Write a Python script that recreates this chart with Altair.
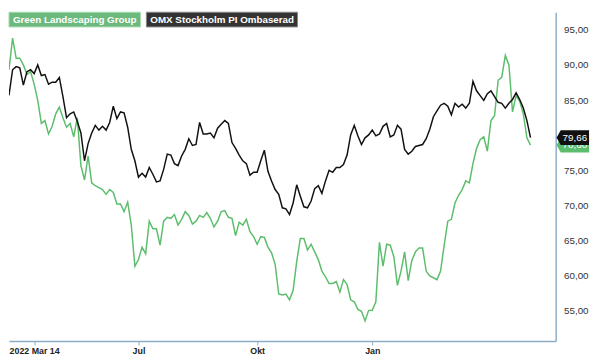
import altair as alt
import pandas as pd

# ---------------- data ----------------
session = list(range(0, 291, 2))   # trading-session index (every 2nd session)

green_vals = [
    89.33, 93.84, 90.97, 90.97, 90.02, 88.65, 89.06, 87.28, 84.96, 81.68,
    82.09, 80.18, 81.27, 83.05, 84.01, 82.50, 81.14, 81.68, 79.77, 82.50,
    75.67, 73.62, 77.04, 73.21, 72.80, 72.53, 72.26, 71.57, 72.26, 71.85,
    70.21, 70.21, 69.11, 70.48, 67.20, 61.33, 62.28, 64.06, 63.10, 67.75,
    66.66, 66.66, 64.33, 67.75, 68.30, 68.16, 68.70, 67.20, 68.02, 69.11,
    68.57, 67.34, 67.75, 68.57, 68.30, 68.98, 68.16, 66.93, 67.75, 69.11,
    69.25, 68.30, 68.16, 65.70, 67.61, 67.20, 68.02, 66.25, 65.56, 64.47,
    65.56, 65.43, 64.06, 63.24, 61.60, 57.37, 57.23, 57.37, 56.55, 57.91,
    62.01, 65.29, 65.29, 63.65, 64.47, 63.38, 62.28, 60.64, 59.83, 58.87,
    58.87, 59.14, 57.64, 59.42, 58.73, 56.55, 56.27, 55.18, 54.91, 53.54,
    55.04, 55.04, 56.27, 64.74, 61.33, 64.47, 64.33, 62.69, 58.60, 60.64,
    63.38, 59.28, 62.15, 63.38, 63.92, 63.92, 60.64, 59.96, 59.69, 59.42,
    60.64, 64.33, 67.75, 68.02, 70.34, 71.44, 72.26, 73.49, 73.21, 75.95,
    78.13, 79.36, 79.77, 77.72, 82.09, 82.78, 87.83, 88.24, 91.38, 90.02,
    83.32, 85.64, 84.83, 83.05, 79.63, 78.60,
]

omx_vals = [
    85.69, 89.33, 89.78, 89.61, 87.15, 89.06, 89.33, 88.79, 90.02, 88.51,
    88.65, 87.28, 87.56, 87.56, 88.24, 85.51, 82.50, 83.05, 83.32, 81.96,
    80.32, 76.36, 78.81, 80.32, 81.41, 80.73, 81.27, 80.73, 81.82, 84.14,
    82.37, 83.32, 83.19, 81.14, 77.99, 76.36, 74.03, 74.58, 74.03, 75.40,
    74.44, 73.35, 73.49, 75.13, 77.31, 77.17, 75.95, 75.67, 77.04, 77.99,
    79.50, 78.54, 78.68, 81.82, 80.18, 80.18, 80.32, 79.63, 81.00, 81.55,
    82.09, 81.68, 78.95, 78.13, 77.17, 76.36, 75.95, 74.31, 74.72, 74.72,
    76.36, 77.86, 74.85, 73.49, 72.26, 71.57, 69.66, 69.52, 68.70, 70.34,
    72.94, 71.30, 69.80, 69.66, 70.62, 72.39, 72.80, 71.71, 73.49, 74.99,
    74.72, 75.40, 75.40, 75.81, 77.17, 80.04, 81.41, 79.91, 78.68, 79.63,
    80.04, 80.73, 79.91, 80.18, 81.27, 81.68, 79.77, 80.04, 81.41, 80.86,
    77.99, 77.31, 77.72, 78.40, 78.54, 78.68, 79.50, 80.86, 82.64, 83.46,
    84.28, 84.55, 84.14, 82.91, 84.55, 84.01, 84.42, 83.87, 84.55, 87.69,
    86.33, 85.64, 84.96, 85.92, 86.33, 85.51, 84.69, 84.55, 83.87, 84.55,
    85.10, 86.05, 85.10, 83.87, 82.09, 79.66,
]

series_names = ["Green Landscaping Group", "OMX Stockholm PI Ombaserad"]
series_colors = ["#5cbd6c", "#111111"]
legend_fill = ["#6cb97e", "#333333"]
legend_stroke = ["#a6dcb0", "#8a8a8a"]

tick_sessions = [14, 72, 138, 202]
tick_labels = ["2022 Mar 14", "Jul", "Okt", "Jan"]
y_ticks = [55, 60, 65, 70, 75, 85, 90, 95]

# ---------------- build tables ----------------
df = pd.concat([
    pd.DataFrame({"session": session, "value": green_vals, "series": series_names[0]}),
    pd.DataFrame({"session": session, "value": omx_vals, "series": series_names[1]}),
], ignore_index=True)

last_vals = [green_vals[-1], omx_vals[-1]]
last_labels = [f"{v:.2f}".replace(".", ",") for v in last_vals]

FONT = "Liberation Sans, Arial, sans-serif"
FRAME = "#8aaec8"
W, H = 557, 335

x_label_expr = " : ".join(
    f"datum.value == {s} ? '{l}'" for s, l in zip(tick_sessions, tick_labels)
) + " : ''"

x_scale = alt.Scale(domain=[0, 304], nice=False, zero=False)
y_scale = alt.Scale(domain=[50.67, 97.53], nice=False, zero=False)
color_scale = alt.Scale(domain=series_names, range=series_colors)

lines = alt.Chart(df).mark_line(strokeWidth=1.5, clip=True).encode(
    x=alt.X("session:Q", scale=x_scale, title=None,
            axis=alt.Axis(orient="bottom", values=tick_sessions, labelExpr=x_label_expr,
                          tickSize=4, tickColor=FRAME, domainColor=FRAME, domainWidth=1.5,
                          labelFont=FONT, labelFontSize=9, labelFontWeight="bold",
                          labelColor="#222222", labelPadding=2, grid=False)),
    y=alt.Y("value:Q", scale=y_scale, title=None,
            axis=alt.Axis(orient="right", values=y_ticks,
                          labelExpr="replace(format(datum.value, '.2f'), '.', ',')",
                          ticks=False, domainColor=FRAME, domainWidth=1.5,
                          labelFont=FONT, labelFontSize=10, labelColor="#333333",
                          labelPadding=8, grid=False)),
    color=alt.Color("series:N", scale=color_scale, legend=None),
)

layers = [lines]

# legend boxes (top-left)
box_x = [(0, 134), (140, 294)]
for name, fill, stroke, (x0, x1) in zip(series_names, legend_fill, legend_stroke, box_x):
    base = alt.Chart(pd.DataFrame({"name": [name]}))
    layers.append(base.mark_rect(fill=fill, stroke=stroke, strokeWidth=1).encode(
        x=alt.value(x0), x2=alt.value(x1), y=alt.value(0), y2=alt.value(15)))
    layers.append(base.mark_text(color="white", font=FONT, fontSize=10, fontWeight="bold",
                                 align="left", baseline="middle").encode(
        x=alt.value(x0 + 4), y=alt.value(8), text="name:N"))

# last-value tags on the right axis
tag_path = "M-1,0 L-0.76,-0.42 L1,-0.42 L1,0.42 L-0.76,0.42 Z"
for name, v, lab, col in zip(series_names, last_vals, last_labels, series_colors):
    base = alt.Chart(pd.DataFrame({"series": [name], "value": [v], "label": [lab]}))
    layers.append(base.mark_point(shape=tag_path, size=961, filled=True, opacity=1,
                                  fill=col, stroke=col).encode(
        x=alt.value(574.5), y=alt.Y("value:Q", scale=y_scale)))
    layers.append(base.mark_text(color="white", font=FONT, fontSize=10,
                                 align="center", baseline="middle").encode(
        x=alt.value(576.5), y=alt.Y("value:Q", scale=y_scale), text="label:N"))

chart = alt.layer(*layers).properties(
    width=W, height=H, padding=0, background="white"
).configure_view(stroke=None)

chart.save("out.html", embed_options={"renderer": "svg", "actions": False})
